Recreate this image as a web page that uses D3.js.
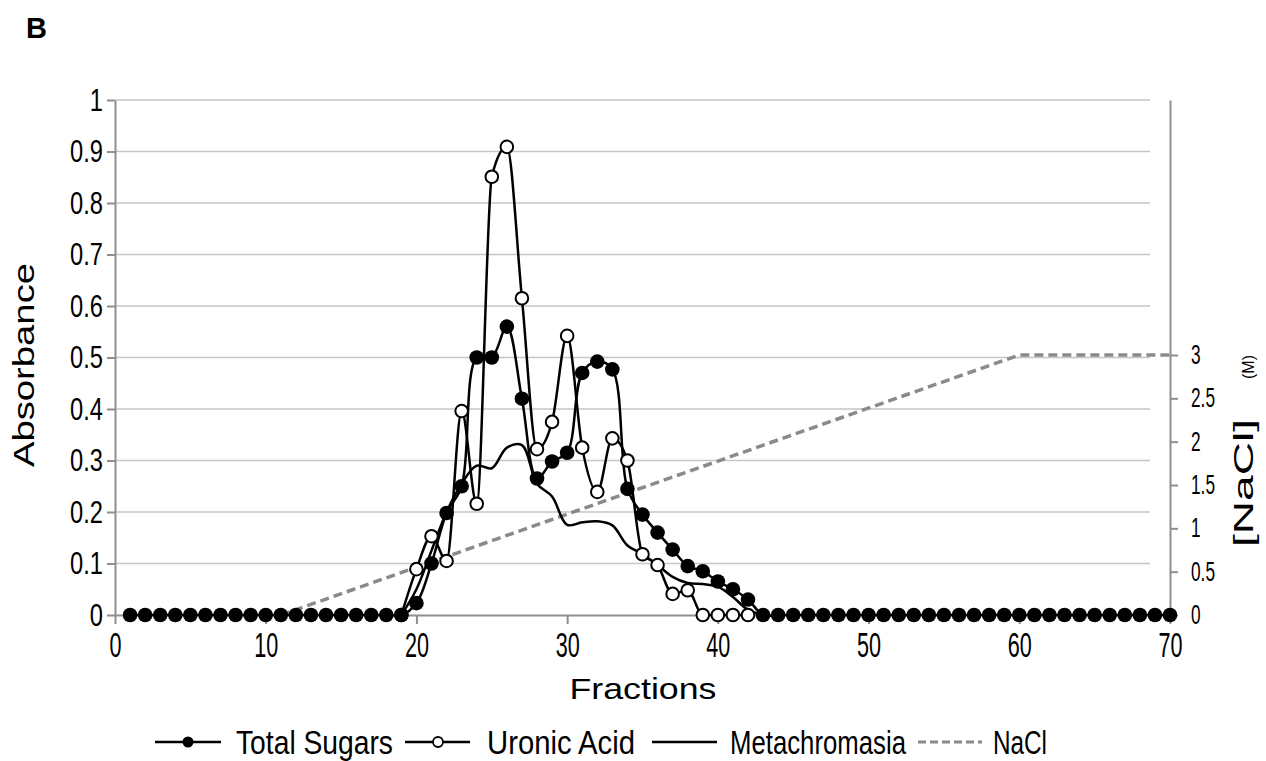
<!DOCTYPE html>
<html>
<head>
<meta charset="utf-8">
<script src="https://cdn.jsdelivr.net/npm/d3@7"></script>
<style>
  body { margin: 0; background: #fff; }
  svg { display: block; }
  text { fill: #000; }
</style>
</head>
<body>
<svg id="chart" width="1266" height="761"></svg>
<script>
// fractions 1..70
var fractions = d3.range(1, 71)
var totalSugars = [
  0, 0, 0, 0, 0, 0, 0, 0, 0, 0,
  0, 0, 0, 0, 0, 0, 0, 0, 0, 0.023,
  0.10, 0.198, 0.25, 0.50, 0.50, 0.56, 0.42, 0.265, 0.298, 0.315,
  0.47, 0.492, 0.477, 0.245, 0.195, 0.16, 0.127, 0.095, 0.085, 0.065,
  0.05, 0.03, 0, 0, 0, 0, 0, 0, 0, 0,
  0, 0, 0, 0, 0, 0, 0, 0, 0, 0,
  0, 0, 0, 0, 0, 0, 0, 0, 0, 0
]
// uronic acid, fractions 19..42
var uronicFractions = d3.range(19, 43)
var uronicAcid = [0, 0.089, 0.153, 0.105, 0.396, 0.216, 0.851, 0.909, 0.615, 0.322,
  0.375, 0.542, 0.325, 0.239, 0.343, 0.30, 0.118, 0.097, 0.041, 0.048,
  0, 0, 0, 0]
// metachromasia, fractions 19..43
var metaFractions = d3.range(19, 44)
var metachromasia = [0, 0.05, 0.125, 0.2, 0.255, 0.29, 0.285, 0.325, 0.33, 0.255,
  0.23, 0.175, 0.18, 0.182, 0.174, 0.135, 0.118, 0.097, 0.074, 0.062,
  0.06, 0.055, 0.035, 0.01, 0]
// NaCl gradient (M)
var naclFractions = [11, 60, 70]
var naclValues = [0, 3, 3]

var xTicks = [0, 10, 20, 30, 40, 50, 60, 70]
var yTicks = [0, 0.1, 0.2, 0.3, 0.4, 0.5, 0.6, 0.7, 0.8, 0.9, 1]
var rTicks = [0, 0.5, 1, 1.5, 2, 2.5, 3]

var svg = d3.select("#chart")
var sans = "'Liberation Sans', Arial, sans-serif"

var x = d3.scaleLinear().domain([0, 70]).range([115, 1170])
var y = d3.scaleLinear().domain([0, 1]).range([615, 100])
// right axis: 3 M sits at the height of 0.505 absorbance
var yr = d3.scaleLinear().domain([0, 3 * 515 / 260]).range([615, 100])

// gridlines
svg.append("g").selectAll("line")
  .data(yTicks.filter(function(d) { return d > 0 }))
  .join("line")
  .attr("x1", x(0)).attr("x2", 1150)
  .attr("y1", function(d) { return y(d) }).attr("y2", function(d) { return y(d) })
  .attr("stroke", "#c6c6c6").attr("stroke-width", 1.5)

// axes
function styleAxis(g) {
  g.select(".domain").attr("stroke", "#8f8f8f").attr("stroke-width", 2)
  g.selectAll(".tick line").attr("stroke", "#8f8f8f").attr("stroke-width", 2)
}

// tick labels are tall and condensed: squeeze Liberation Sans horizontally
var gx = svg.append("g").attr("transform", "translate(0,615)")
  .call(d3.axisBottom(x).tickValues(xTicks).tickSize(9).tickSizeOuter(0).tickPadding(7))
styleAxis(gx)
gx.selectAll(".tick text")
  .attr("font-family", sans).attr("font-size", 36)
  .attr("transform", "scale(0.6,1)")

var gy = svg.append("g").attr("transform", "translate(115,0)")
  .call(d3.axisLeft(y).tickValues(yTicks).tickFormat(d3.format("~g")).tickSize(8).tickSizeOuter(0).tickPadding(4))
styleAxis(gy)
gy.selectAll(".tick text")
  .attr("font-family", sans).attr("font-size", 32)
  .attr("x", -12 / 0.74)
  .attr("transform", "scale(0.74,1)")

var gr = svg.append("g").attr("transform", "translate(1170,0)")
  .call(d3.axisRight(yr).tickValues(rTicks).tickFormat(d3.format("~g")).tickSize(8).tickSizeOuter(0).tickPadding(14))
styleAxis(gr)
gr.selectAll(".tick text")
  .attr("font-family", sans).attr("font-size", 27)
  .attr("x", 21 / 0.64)
  .attr("transform", "scale(0.64,1)")

// series
var naclLine = d3.line()
  .x(function(d, i) { return x(naclFractions[i]) })
  .y(function(d) { return yr(d) })
svg.append("path").datum(naclValues)
  .attr("d", naclLine)
  .attr("fill", "none").attr("stroke", "#8a8a8a")
  .attr("stroke-width", 3.5).attr("stroke-dasharray", "9,5")

var metaLine = d3.line().curve(d3.curveCatmullRom.alpha(0.5))
  .x(function(d, i) { return x(metaFractions[i]) })
  .y(function(d) { return y(d) })
svg.append("path").datum(metachromasia)
  .attr("d", metaLine)
  .attr("fill", "none").attr("stroke", "#000").attr("stroke-width", 2.5)

var uronicLine = d3.line().curve(d3.curveMonotoneX)
  .x(function(d, i) { return x(uronicFractions[i]) })
  .y(function(d) { return y(d) })
svg.append("path").datum(uronicAcid)
  .attr("d", uronicLine)
  .attr("fill", "none").attr("stroke", "#000").attr("stroke-width", 2.5)

var sugarLine = d3.line().curve(d3.curveCatmullRom.alpha(0.5))
  .x(function(d, i) { return x(fractions[i]) })
  .y(function(d) { return y(d) })
svg.append("path").datum(totalSugars)
  .attr("d", sugarLine)
  .attr("fill", "none").attr("stroke", "#000").attr("stroke-width", 2.5)

svg.append("g").selectAll("circle")
  .data(uronicAcid)
  .join("circle")
  .attr("cx", function(d, i) { return x(uronicFractions[i]) })
  .attr("cy", function(d) { return y(d) })
  .attr("r", 6.3)
  .attr("fill", "#fff").attr("stroke", "#000").attr("stroke-width", 2)

svg.append("g").selectAll("circle")
  .data(totalSugars)
  .join("circle")
  .attr("cx", function(d, i) { return x(fractions[i]) })
  .attr("cy", function(d) { return y(d) })
  .attr("r", 7.3)
  .attr("fill", "#000")

// titles
svg.append("text").text("B")
  .attr("x", 26).attr("y", 38)
  .attr("font-family", sans).attr("font-weight", "bold").attr("font-size", 29)

svg.append("text").text("Absorbance")
  .attr("transform", "translate(34,365) rotate(-90)")
  .attr("text-anchor", "middle")
  .attr("font-family", sans).attr("font-size", 30)
  .attr("textLength", 204).attr("lengthAdjust", "spacingAndGlyphs")

svg.append("text").text("Fractions")
  .attr("x", 643).attr("y", 699)
  .attr("text-anchor", "middle")
  .attr("font-family", sans).attr("font-size", 30)
  .attr("textLength", 147).attr("lengthAdjust", "spacingAndGlyphs")

svg.append("text").text("[NaCl]")
  .attr("transform", "translate(1253,483) rotate(-90)")
  .attr("text-anchor", "middle")
  .attr("font-family", sans).attr("font-size", 28)
  .attr("textLength", 128).attr("lengthAdjust", "spacingAndGlyphs")

svg.append("text").text("(M)")
  .attr("transform", "translate(1254,367) rotate(-90)")
  .attr("text-anchor", "middle")
  .attr("font-family", sans).attr("font-size", 16)

// legend
var legendY = 742
var legend = svg.append("g")
function legendText(label, x0, len) {
  legend.append("text").text(label)
    .attr("x", x0).attr("y", legendY + 12)
    .attr("font-family", sans).attr("font-size", 34)
    .attr("textLength", len).attr("lengthAdjust", "spacingAndGlyphs")
}
legend.append("line").attr("x1", 155).attr("x2", 221).attr("y1", legendY).attr("y2", legendY)
  .attr("stroke", "#000").attr("stroke-width", 2.5)
legend.append("circle").attr("cx", 188).attr("cy", legendY).attr("r", 5.5).attr("fill", "#000")
legendText("Total Sugars", 236, 157)

legend.append("line").attr("x1", 405).attr("x2", 470).attr("y1", legendY).attr("y2", legendY)
  .attr("stroke", "#000").attr("stroke-width", 2.5)
legend.append("circle").attr("cx", 438).attr("cy", legendY).attr("r", 5)
  .attr("fill", "#fff").attr("stroke", "#000").attr("stroke-width", 1.8)
legendText("Uronic Acid", 487, 148)

legend.append("line").attr("x1", 652).attr("x2", 717).attr("y1", legendY).attr("y2", legendY)
  .attr("stroke", "#000").attr("stroke-width", 2.5)
legendText("Metachromasia", 730, 176)

legend.append("line").attr("x1", 918).attr("x2", 982).attr("y1", legendY).attr("y2", legendY)
  .attr("stroke", "#8a8a8a").attr("stroke-width", 3).attr("stroke-dasharray", "8,4")
legendText("NaCl", 993, 54)
</script>
</body>
</html>
